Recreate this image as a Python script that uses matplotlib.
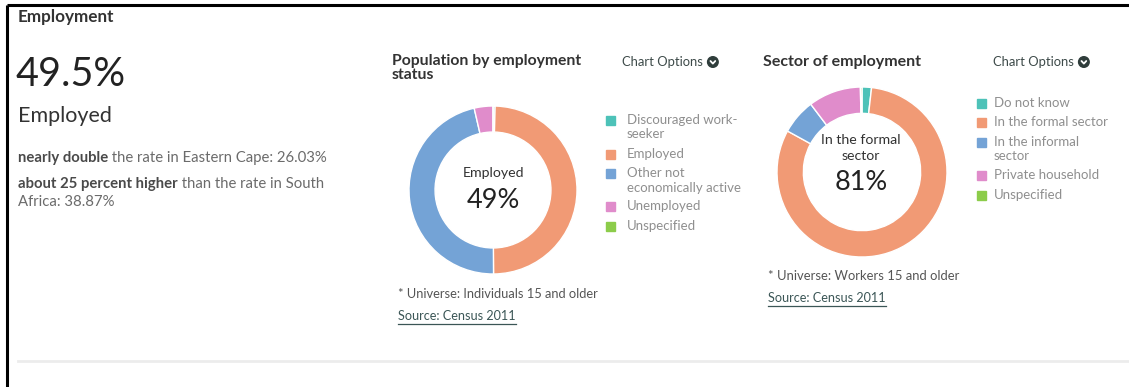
import matplotlib
matplotlib.use("Agg")
import matplotlib.pyplot as plt
from matplotlib.patches import Circle

plt.rcParams['font.family'] = ['Lato', 'DejaVu Sans']

# data
status_labels = ["Discouraged work-\nseeker", "Employed", "Other not\neconomically active",
                 "Unemployed", "Unspecified"]
status_values = [0.4, 49.5, 46.5, 3.6, 0.0]
sector_labels = ["Do not know", "In the formal sector", "In the informal\nsector",
                 "Private household", "Unspecified"]
sector_values = [1.8, 81.2, 6.7, 10.0, 0.3]
colors = ["#4dc2b8", "#f19a75", "#74a3d6", "#e08ccb", "#8ccc4a"]

W, H = 1129, 387
fig = plt.figure(figsize=(W / 100, H / 100), dpi=100)
fig.patch.set_facecolor("white")

# full-figure axes working in pixel units
bg = fig.add_axes([0, 0, 1, 1])
bg.set_xlim(0, W)
bg.set_ylim(H, 0)
bg.axis("off")

dark = "#333333"
grey = "#6b6b6b"

# frame lines (top + left) and faint divider
bg.plot([7, W], [5, 5], color="black", lw=2.2, solid_capstyle="butt")
bg.plot([7, 7], [5, H], color="black", lw=2.2, solid_capstyle="butt")
bg.plot([18, W], [361, 361], color="#ececec", lw=2)

# left summary block
bg.text(18, 17, "Employment", fontsize=12.3, fontweight="bold", color=dark, va="center")
bg.text(16, 74, "49.5%", fontsize=28.5, color="#222222", va="center")
bg.text(18, 116, "Employed", fontsize=15.5, color=dark, va="center")

fig.canvas.draw()
renderer = fig.canvas.get_renderer()


def rich_line(x, y, parts, size):
    # draw bold/regular pieces side by side
    for txt, weight, col in parts:
        t = bg.text(x, y, txt, fontsize=size, fontweight=weight, color=col, va="center")
        bb = t.get_window_extent(renderer=renderer)
        x += bb.width


rich_line(18, 158, [("nearly double", "bold", "#4a4a4a"),
                    (" the rate in Eastern Cape: 26.03%", "normal", grey)], 10.7)
rich_line(18, 184, [("about 25 percent higher", "bold", "#4a4a4a"),
                    (" than the rate in South", "normal", grey)], 10.7)
bg.text(18, 202, "Africa: 38.87%", fontsize=10.7, color=grey, va="center")


def chart_options(x, y):
    t = bg.text(x, y, "Chart Options", fontsize=9.4, color="#3d4a49", va="center")
    bb = t.get_window_extent(renderer=renderer)
    cx = x + bb.width + 10
    bg.add_patch(Circle((cx, y), 5.3, color="#2f3d3b", zorder=3))
    bg.plot([cx - 2.4, cx, cx + 2.4], [y - 1, y + 1.6, y - 1], color="white",
            lw=1.3, zorder=4, solid_capstyle="round")


def source_link(x, y):
    t = bg.text(x, y, "Source: Census 2011", fontsize=9.1, color="#3b5656", va="center")
    bb = t.get_window_extent(renderer=renderer)
    bg.plot([x, x + bb.width], [y + 7.5, y + 7.5], color="#3b5656", lw=0.9)


def legend(x, y0, labels, steps, tx):
    y = y0
    for lab, col, step in zip(labels, colors, steps):
        bg.add_patch(plt.Rectangle((x, y - 4.5), 9, 9, color=col))
        for i, line in enumerate(lab.split("\n")):
            bg.text(tx, y + i * 14.5, line, fontsize=9.5, color="#8f8f8f", va="center")
        y += step


# middle chart
bg.text(392, 61, "Population by employment", fontsize=11.3, fontweight="bold",
        color=dark, va="center")
bg.text(392, 75, "status", fontsize=11.3, fontweight="bold", color=dark, va="center")
chart_options(622, 62)
legend(606, 120, status_labels, [34, 19, 33, 20, 0], 627)
bg.text(398, 294, "* Universe: Individuals 15 and older", fontsize=9.3, color="#555555",
        va="center")
source_link(398, 316)

# right chart
bg.text(763, 62, "Sector of employment", fontsize=11.5, fontweight="bold", color=dark,
        va="center")
chart_options(993, 62)
legend(977, 103, sector_labels, [19, 20, 33, 20, 0], 994)
bg.text(768, 276, "* Universe: Workers 15 and older", fontsize=9.4, color="#555555",
        va="center")
source_link(768, 298)


def donut(cx, cy, r, values):
    ax = fig.add_axes([(cx - r) / W, 1 - (cy + r) / H, 2 * r / W, 2 * r / H])
    ax.pie(values, colors=colors, startangle=90, counterclock=False, radius=1,
           wedgeprops=dict(width=0.31, edgecolor="white", linewidth=1))
    ax.set_xlim(-1, 1)
    ax.set_ylim(-1, 1)
    ax.axis("off")
    return ax


donut(493, 190, 84, status_values)
bg.text(493, 173, "Employed", fontsize=10.2, color=dark, ha="center", va="center")
bg.text(493, 200, "49%", fontsize=19.5, color="#222222", ha="center", va="center")

donut(862, 172, 85, sector_values)
bg.text(861, 140, "In the formal", fontsize=10.2, color=dark, ha="center", va="center")
bg.text(861, 156, "sector", fontsize=10.2, color=dark, ha="center", va="center")
bg.text(861, 183, "81%", fontsize=19.5, color="#222222", ha="center", va="center")

fig.savefig("out.png", dpi=100, facecolor="white")
